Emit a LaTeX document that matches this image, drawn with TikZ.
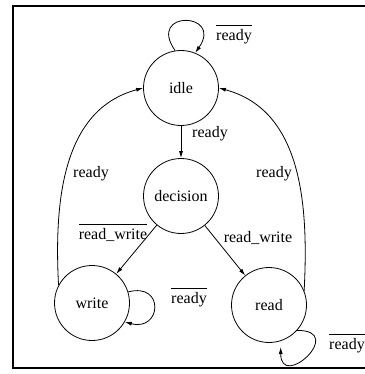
\documentclass[tikz,border=0pt]{standalone}
\usepackage{fontspec}
\setmainfont{Liberation Serif}
\usetikzlibrary{arrows.meta}
\newcommand{\negated}[1]{$\overline{\mbox{\rule{0pt}{14pt}#1}}$}
\begin{document}
\begin{tikzpicture}[x=1pt,y=1pt,line width=0.8pt,
  ->,>={Latex[length=7pt,width=4pt]},
  state/.style={draw, circle, minimum size=75pt, inner sep=0pt, font=\fontsize{16}{19}\selectfont},
  lbl/.style={font=\fontsize{16}{19}\selectfont, inner sep=0pt}]
			\useasboundingbox (0,0) rectangle (364,-374);
			\draw[-, line width=2pt] (372,-6) -- (13,-6) -- (13,-368) -- (372,-368);
			\node[state] (idle) at (181,-88) {idle};
			\node[state] (dec) at (181,-196) {decision};
			\node[state] (write) at (92,-303) {write};
			\node[state] (read) at (269,-305) {read};
			\node[lbl] (l0) at (234,-34) {\negated{ready}};
			\node[lbl] (l1) at (210,-134) {ready};
			\node[lbl] (l2) at (91,-174) {ready};
			\node[lbl] (l3) at (274,-174) {ready};
			\node[lbl] (l4) at (113,-233) {\negated{read\_write}};
			\node[lbl] (l5) at (258,-238) {read\_write};
			\node[lbl] (l6) at (189,-297) {\negated{ready}};
			\node[lbl] (l7) at (347,-343) {\negated{ready}};
			\draw (idle.99) to[out=125, in=55, distance=50pt] (idle.68);
			\draw (idle) -> (dec);
			\draw (dec) -> (write);
			\draw (dec) -> (read);
			\draw (write.152) to[out=93, in=195] (idle.west);
			\draw (read.22) to[out=87, in=-15] (idle.east);
			\draw (write.17) to[out=15, in=-15, distance=38pt] (write.-30);
			\draw[shorten >=6pt] (read.-42) to[out=0, in=-90, distance=50pt] (read.-72);
		\end{tikzpicture}
\end{document}
